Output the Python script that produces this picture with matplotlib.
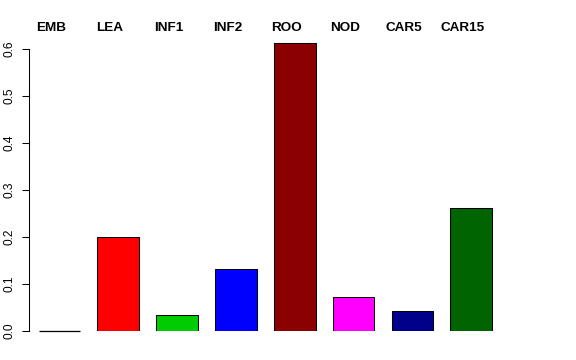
import matplotlib
matplotlib.use("Agg")
import matplotlib.pyplot as plt
import numpy as np

plt.rcParams["font.family"] = ["Liberation Sans", "DejaVu Sans"]

tissues = ["EMB", "LEA", "INF1", "INF2", "ROO", "NOD", "CAR5", "CAR15"]
values = [0.0, 0.199, 0.033, 0.132, 0.612, 0.072, 0.042, 0.262]
colors = ["#000000", "#FF0000", "#00CD00", "#0000FF", "#8B0000", "#FF00FF", "#00008B", "#006400"]

fig = plt.figure(figsize=(5.76, 3.6), dpi=100)
# axes placed in pixel fractions to mimic the R barplot layout
ax = fig.add_axes([29 / 576, 29 / 360, (560 - 29) / 576, (331 - 39.6) / 360])

x = np.arange(len(tissues))
w = 0.71
bars = ax.bar(x, values, width=w, color=colors, edgecolor="black", linewidth=0.75)

# zero-height bars still show their outline as a flat line in R
for xi, v in zip(x, values):
    if v == 0:
        ax.hlines(0, xi - w / 2, xi + w / 2, color="black", linewidth=0.9,
                  clip_on=False, zorder=3)

ax.set_xlim(-0.519, 8.51)
ax.set_ylim(0, 0.62)

for s in ["top", "right", "bottom"]:
    ax.spines[s].set_visible(False)
ax.spines["left"].set_bounds(0, 0.6)
ax.spines["left"].set_linewidth(0.75)
ax.set_xticks([])
ax.set_yticks([0, 0.1, 0.2, 0.3, 0.4, 0.5, 0.6])
ax.set_yticklabels(["0.0", "0.1", "0.2", "0.3", "0.4", "0.5", "0.6"],
                   rotation=90, va="center", fontsize=8.6)
ax.tick_params(axis="y", length=5, width=0.75, pad=5)

for xi, name in zip(x, tissues):
    ax.text(xi - 0.14, 0.645, name, ha="center", va="center",
            fontsize=9.7, fontweight="bold", clip_on=False)

fig.savefig("out.png", dpi=100)
